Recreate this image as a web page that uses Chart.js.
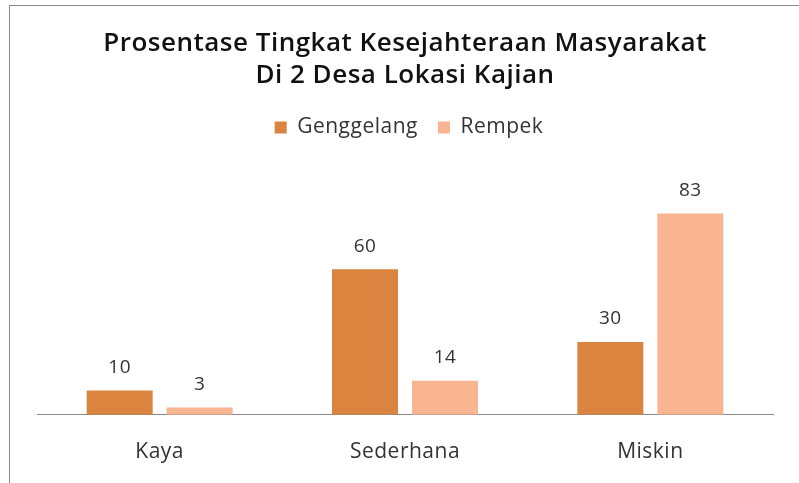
<!DOCTYPE html>
<html><head><meta charset="utf-8">
<script src="https://cdn.jsdelivr.net/npm/chart.js@4/dist/chart.umd.min.js"></script>
<style>
html,body{margin:0;padding:0;background:#fff;}
#wrap{position:relative;width:799px;height:483px;}
#frame{position:absolute;left:9px;top:5px;width:790px;height:478px;border-top:1px solid #8a8a8a;border-left:1px solid #8a8a8a;box-sizing:border-box;pointer-events:none;}
canvas{position:absolute;left:0;top:0;}
</style></head>
<body><div id="wrap"><canvas id="c" width="799" height="483"></canvas><div id="frame"></div></div>
<script>
const categories = ["Kaya", "Sederhana", "Miskin"];
const genggelang = [10, 60, 30];
const rempek = [3, 14, 83];
const seriesNames = ["Genggelang", "Rempek"];
const titleLines = ["Prosentase Tingkat Kesejahteraan Masyarakat", "Di 2 Desa Lokasi Kajian"];

const fontFam = "'Open Sans', 'Noto Sans', sans-serif";
const spacingPlugin = {
  id: 'spacing',
  beforeInit(chart) { chart.ctx.letterSpacing = '0.5px'; },
  beforeDraw(chart) { chart.ctx.letterSpacing = '0.5px'; }
};
const labelPlugin = {
  id: 'valLabels',
  afterDatasetsDraw(chart) {
    const ctx = chart.ctx;
    ctx.save();
    ctx.font = "19px " + fontFam;
    ctx.fillStyle = "#333";
    ctx.textAlign = "center";
    ctx.textBaseline = "middle";
    chart.data.datasets.forEach((ds, i) => {
      chart.getDatasetMeta(i).data.forEach((bar, j) => {
        ctx.fillText(String(ds.data[j]), bar.x, bar.y - 23);
      });
    });
    ctx.restore();
  }
};

new Chart(document.getElementById('c'), {
  type: 'bar',
  data: {
    labels: categories,
    datasets: [
      {label: seriesNames[0], data: genggelang, backgroundColor: '#DA843F', categoryPercentage: 0.652, barPercentage: 0.825},
      {label: seriesNames[1], data: rempek, backgroundColor: '#F9B591', categoryPercentage: 0.652, barPercentage: 0.825}
    ]
  },
  options: {
    responsive: false,
    animation: false,
    layout: {padding: {left: 37, right: 26, top: 0, bottom: 1}},
    plugins: {
      title: {display: true, text: titleLines, color: '#111', font: {family: fontFam, size: 26, weight: '600', lineHeight: 1.25}, padding: {top: 27, bottom: 5}},
      legend: {display: true, position: 'top', labels: {color: '#333', font: {family: fontFam, size: 21}, boxWidth: 12, boxHeight: 12, padding: 20}},
      tooltip: {enabled: false}
    },
    scales: {
      x: {grid: {display: false}, border: {display: true, color: '#8a8a8a'}, ticks: {color: '#333', font: {family: fontFam, size: 21}, padding: 17}},
      y: {display: false, min: 0, max: 110}
    }
  },
  plugins: [spacingPlugin, labelPlugin]
});
</script></body></html>
